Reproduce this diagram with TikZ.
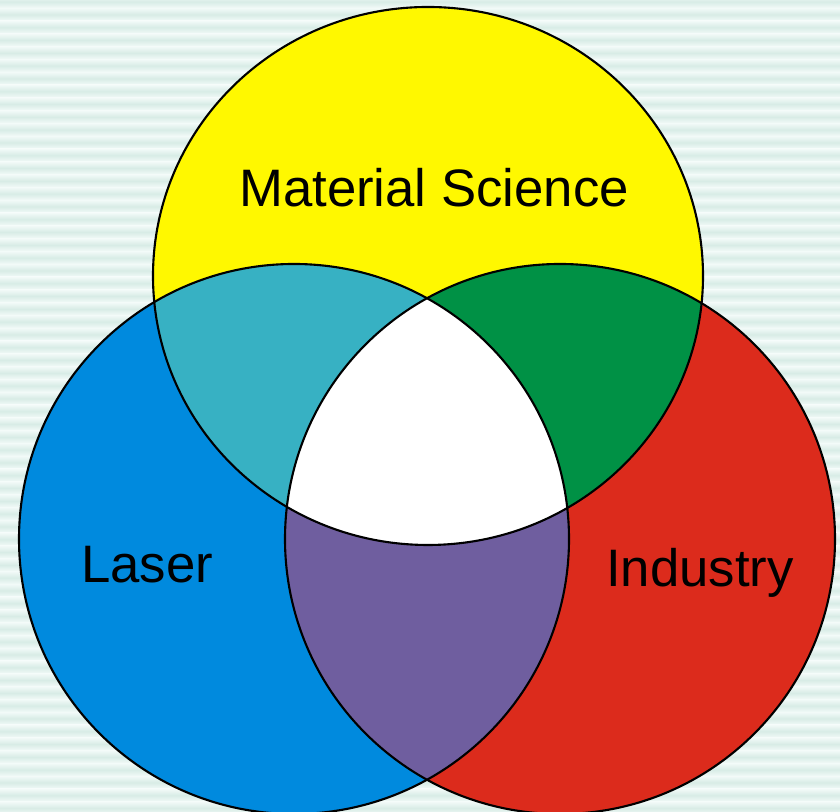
\documentclass[tikz,border=0pt]{standalone}
\usepackage{fontspec}
\setmainfont{Liberation Sans}
\definecolor{matyellow}{RGB}{255,248,0}
\definecolor{laserblue}{RGB}{0,138,222}
\definecolor{indred}{RGB}{220,43,28}
\definecolor{mixteal}{RGB}{55,177,195}
\definecolor{mixgreen}{RGB}{0,145,69}
\definecolor{mixpurple}{RGB}{111,94,159}
\definecolor{bglight}{RGB}{242,250,248}
\definecolor{bgdark}{RGB}{216,236,230}
% the three sets
\def\matset{(4.28,5.36) ellipse [x radius=2.75cm, y radius=2.69cm]}
\def\laserset{(2.94,2.73) circle [radius=2.75cm]}
\def\indset{(5.60,2.73) circle [radius=2.75cm]}
\begin{document}
\begin{tikzpicture}[
  setline/.style={draw=black, line width=0.6pt},
  lbl/.style={font=\fontsize{15}{18}\selectfont, text=black}
]
  \useasboundingbox (0,0) rectangle (8.4,8.12);
  % striped background
  \fill[bglight] (0,0) rectangle (8.4,8.12);
  \foreach \k in {0,...,63}
    \shade[top color=bglight, bottom color=bglight, middle color=bgdark]
      (0,{8.103-0.128*\k-0.064}) rectangle (8.4,{8.103-0.128*\k+0.064});
  % single sets
  \fill[laserblue] \laserset;
  \fill[indred] \indset;
  \fill[matyellow] \matset;
  % pairwise overlaps
  \begin{scope}
    \clip \matset;
    \fill[mixteal] \laserset;
    \fill[mixgreen] \indset;
  \end{scope}
  \begin{scope}
    \clip \laserset;
    \fill[mixpurple] \indset;
  \end{scope}
  % all three
  \begin{scope}
    \clip \matset;
    \clip \laserset;
    \fill[white] \indset;
  \end{scope}
  % outlines
  \draw[setline] \laserset;
  \draw[setline] \indset;
  \draw[setline] \matset;
  \node[lbl] (mat) at (4.34,6.24) {Material Science};
  \node[lbl] (laser) at (1.47,2.47) {Laser};
  \node[lbl] (ind) at (7.00,2.39) {Industry};
\end{tikzpicture}
\end{document}
